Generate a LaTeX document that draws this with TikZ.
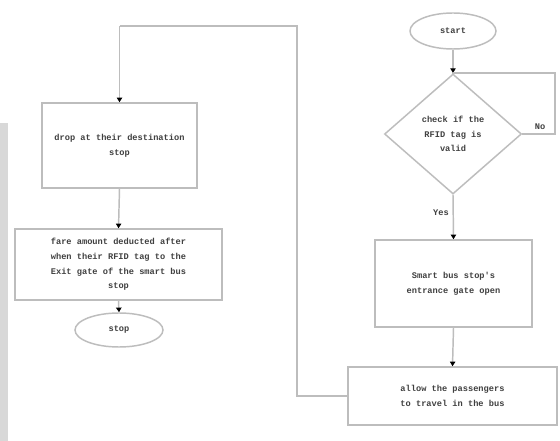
\documentclass[tikz,border=0pt]{standalone}
\usepackage{fontspec}
\setmonofont{Liberation Mono}
\usetikzlibrary{shapes.geometric,arrows.meta}
\definecolor{edgegrey}{HTML}{BDBDBD}
\definecolor{bandgrey}{HTML}{D8D8D8}
\definecolor{txt}{HTML}{404040}
\tikzset{
  every node/.style={font=\ttfamily\bfseries\fontsize{6.5}{11}\selectfont, text=txt, align=center},
  boxnode/.style={draw=edgegrey, line width=1.1pt, rectangle, inner sep=0pt},
  ovalnode/.style={draw=edgegrey, line width=1.1pt, ellipse, inner sep=0pt},
  decnode/.style={draw=edgegrey, line width=1.1pt, diamond, inner sep=0pt, aspect=1.2},
  conn/.style={draw=edgegrey, line width=1.1pt, -{Triangle[length=3.5pt,width=4pt,color=black]}},
  plainconn/.style={draw=edgegrey, line width=1.1pt},
  lbl/.style={font=\ttfamily\bfseries\fontsize{6.5}{8}\selectfont}
}
\begin{document}
\begin{tikzpicture}[x=0.75pt,y=-0.75pt]
\useasboundingbox (0,0) rectangle (560,441);
\fill[white] (0,0) rectangle (560,441);
\fill[bandgrey] (0,123) rectangle (8,441);

\node[ovalnode, minimum width=86*0.75pt, minimum height=36*0.75pt] (start) at (453,31) {start};
\node[decnode, minimum width=137*0.75pt, minimum height=120*0.75pt] (check) at (453,134) {check if the\\RFID tag is\\valid};
\node[boxnode, minimum width=157*0.75pt, minimum height=87*0.75pt] (gate) at (453.5,283.5) {Smart bus stop's\\entrance gate open};
\node[boxnode, minimum width=209*0.75pt, minimum height=58*0.75pt] (allow) at (452.5,396) {allow the passengers\\to travel in the bus};
\node[boxnode, minimum width=155*0.75pt, minimum height=85*0.75pt] (drop) at (119.5,145.5) {drop at their destination\\stop};
\node[boxnode, minimum width=207*0.75pt, minimum height=71*0.75pt] (fare) at (118.5,264.5) {fare amount deducted after\\when their RFID tag to the\\Exit gate of the smart bus\\stop};
\node[ovalnode, minimum width=88*0.75pt, minimum height=34*0.75pt] (stop) at (119,330) {stop};

\coordinate (noB) at (555,73);
\coordinate (loopend) at (453,73);
\coordinate (lpA) at (297,396);
\coordinate (lpB) at (297,26);
\coordinate (lpC) at (119.5,26);

\draw[conn] (start) -- (loopend);
\draw[plainconn] (loopend) -- (check.north);
\draw[plainconn] (check.east) -- (check.east -| noB) -- (noB) -- (loopend);
\node[lbl] (nolbl) at (540,127) {No};
\draw[conn] (check.south) -- (gate.north);
\node[lbl] (yeslbl) at (441,213) {Yes};
\draw[conn] (gate.south) -- (allow.north);
\draw[plainconn] (allow.west) -- (lpA) -- (lpB) -- (lpC);
\draw[conn] (lpC) -- (drop.north);
\draw[conn] (drop.south) -- (fare.north);
\draw[conn] (fare.south) -- (stop.north);
\end{tikzpicture}
\end{document}
